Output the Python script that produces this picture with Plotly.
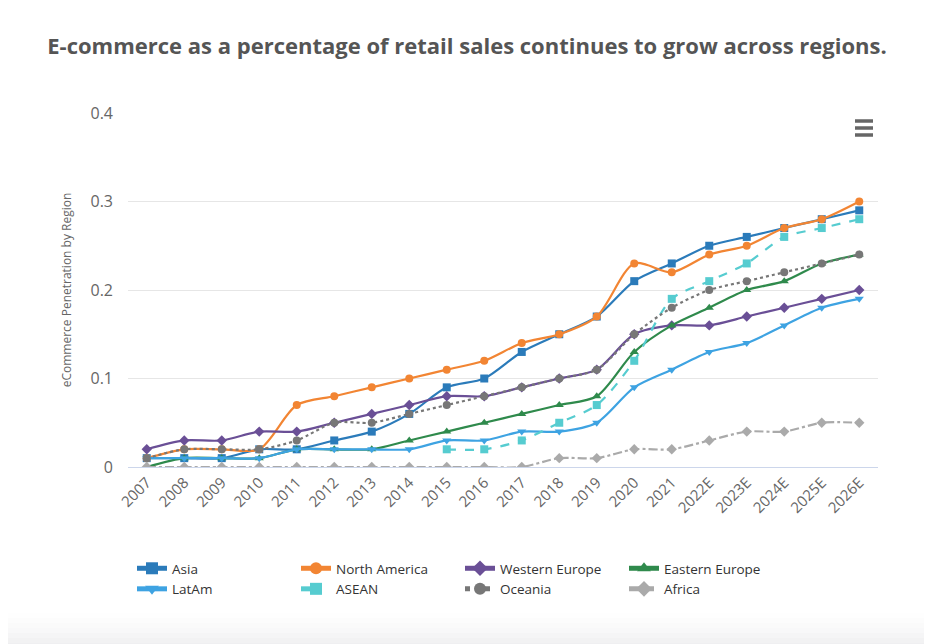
import plotly.graph_objects as go

years = ["2007", "2008", "2009", "2010", "2011", "2012", "2013", "2014", "2015", "2016",
         "2017", "2018", "2019", "2020", "2021", "2022E", "2023E", "2024E", "2025E", "2026E"]

asia = [0.01, 0.01, 0.01, 0.02, 0.02, 0.03, 0.04, 0.06, 0.09, 0.10,
        0.13, 0.15, 0.17, 0.21, 0.23, 0.25, 0.26, 0.27, 0.28, 0.29]
north_america = [0.01, 0.02, 0.02, 0.02, 0.07, 0.08, 0.09, 0.10, 0.11, 0.12,
                 0.14, 0.15, 0.17, 0.23, 0.22, 0.24, 0.25, 0.27, 0.28, 0.30]
western_europe = [0.02, 0.03, 0.03, 0.04, 0.04, 0.05, 0.06, 0.07, 0.08, 0.08,
                  0.09, 0.10, 0.11, 0.15, 0.16, 0.16, 0.17, 0.18, 0.19, 0.20]
eastern_europe = [0.00, 0.01, 0.01, 0.01, 0.02, 0.02, 0.02, 0.03, 0.04, 0.05,
                  0.06, 0.07, 0.08, 0.13, 0.16, 0.18, 0.20, 0.21, 0.23, 0.24]
latam = [0.01, 0.01, 0.01, 0.01, 0.02, 0.02, 0.02, 0.02, 0.03, 0.03,
         0.04, 0.04, 0.05, 0.09, 0.11, 0.13, 0.14, 0.16, 0.18, 0.19]
asean = [None, None, None, None, None, None, None, None, 0.02, 0.02,
         0.03, 0.05, 0.07, 0.12, 0.19, 0.21, 0.23, 0.26, 0.27, 0.28]
oceania = [0.01, 0.02, 0.02, 0.02, 0.03, 0.05, 0.05, 0.06, 0.07, 0.08,
           0.09, 0.10, 0.11, 0.15, 0.18, 0.20, 0.21, 0.22, 0.23, 0.24]
africa = [0.00, 0.00, 0.00, 0.00, 0.00, 0.00, 0.00, 0.00, 0.00, 0.00,
          0.00, 0.01, 0.01, 0.02, 0.02, 0.03, 0.04, 0.04, 0.05, 0.05]

y_ticks = [0, 0.1, 0.2, 0.3, 0.4]
y_tick_labels = ["0", "0.1", "0.2", "0.3", "0.4"]

series = [
    ("Asia", asia, "#2b7bba", "solid", "square"),
    ("North America", north_america, "#f28533", "solid", "circle"),
    ("Western Europe", western_europe, "#6a4f96", "solid", "diamond"),
    ("Eastern Europe", eastern_europe, "#2f8a4c", "solid", "triangle-up"),
    ("LatAm", latam, "#3ea3e2", "solid", "triangle-down"),
    ("ASEAN", asean, "#56ccd0", "dash", "square"),
    ("Oceania", oceania, "#777777", "dot", "circle"),
    ("Africa", africa, "#aaaaaa", "dashdot", "diamond"),
]

fig = go.Figure()
for name, vals, color, dash, sym in series:
    fig.add_trace(go.Scatter(
        x=years, y=vals, name=name, mode="lines+markers",
        line=dict(color=color, width=2.2, dash=dash, shape="spline", smoothing=0.8),
        marker=dict(symbol=sym, size=8, color=color),
        connectgaps=False,
    ))

font_family = "'Open Sans', Lato, sans-serif"

# layout geometry (figure pixels)
L, T, W, H = 120, 105, 750, 354


def px_x(x):
    return (x - L) / W


def px_y(y):
    return (T + H - y) / H


shapes = []
# hamburger menu icon
for dy in [0, 7, 14]:
    shapes.append(dict(type="line", xref="paper", yref="paper",
                       x0=px_x(847), x1=px_x(865),
                       y0=px_y(113 + dy), y1=px_y(113 + dy),
                       line=dict(color="#666666", width=3.5), layer="above"))
# faint bottom shadow
greys = ["#fefefe", "#fcfcfc", "#fafafa", "#f8f8f9", "#f5f5f6", "#f2f2f3", "#efeff1"]
for i, g in enumerate(greys):
    y0 = 605 + i * 5
    shapes.append(dict(type="rect", xref="paper", yref="paper",
                       x0=px_x(-10), x1=px_x(950), y0=px_y(y0), y1=px_y(y0 + 5 if i < len(greys) - 1 else 660),
                       fillcolor=g, line=dict(width=0), layer="below"))

fig.update_layout(
    width=932, height=644,
    paper_bgcolor="white", plot_bgcolor="rgba(0,0,0,0)",
    margin=dict(l=L, r=932 - L - W, t=T, b=644 - T - H),
    title=dict(text="E-commerce as a percentage of retail sales continues to grow across regions.",
               x=(459) / 932, xanchor="center", y=1 - 38 / 644, yanchor="middle",
               font=dict(family=font_family, size=22, color="#555555", weight="bold")),
    font=dict(family=font_family, color="#666666"),
    showlegend=True,
    legend=dict(orientation="h", x=px_x(124), xanchor="left", y=px_y(545), yanchor="top",
                entrywidth=119, entrywidthmode="pixels",
                font=dict(size=13.5, color="#333333"), tracegroupgap=0,
                itemsizing="constant"),
    shapes=shapes,
)
fig.update_xaxes(
    type="category", range=[-0.5, 19.5], tickangle=-45,
    tickfont=dict(size=15, color="#666666"),
    showgrid=False, showline=True, linecolor="#ccd6eb", linewidth=1,
    ticks="", zeroline=False,
)
fig.update_yaxes(
    range=[0, 0.4], tickvals=y_ticks, ticktext=y_tick_labels,
    tickfont=dict(size=16, color="#666666"),
    showgrid=True, gridcolor="#e6e6e6", gridwidth=1, zeroline=False,
    title=dict(text="eCommerce Penetration by Region", font=dict(size=12, color="#666666"), standoff=16),
    ticklabelstandoff=14,
)

fig.write_html("out.html")
